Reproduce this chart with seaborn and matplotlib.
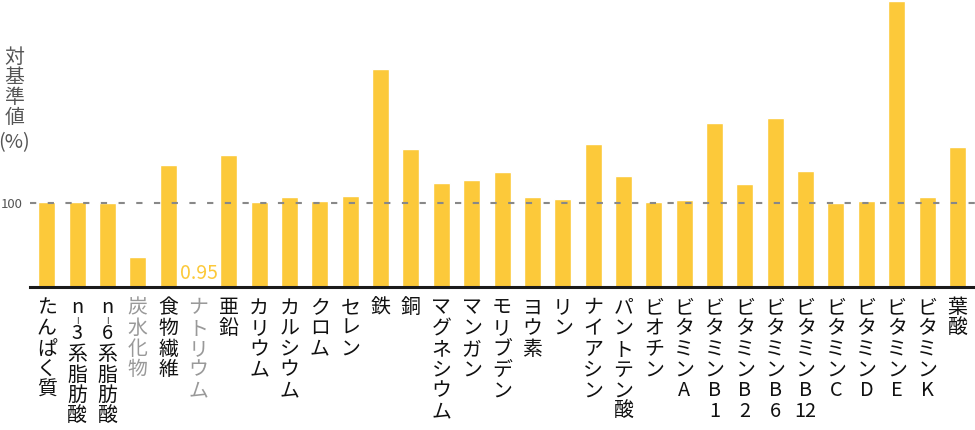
import re
import matplotlib
matplotlib.use("Agg")
import matplotlib.pyplot as plt
import seaborn as sns
import pandas as pd

# nutrient names and ratio to reference intake (%)
nutrients = [
    "たんぱく質", "n-3系脂肪酸", "n-6系脂肪酸", "炭水化物", "食物繊維", "ナトリウム",
    "亜鉛", "カリウム", "カルシウム", "クロム", "セレン", "鉄", "銅", "マグネシウム",
    "マンガン", "モリブデン", "ヨウ素", "リン", "ナイアシン", "パントテン酸", "ビオチン",
    "ビタミンA", "ビタミンB1", "ビタミンB2", "ビタミンB6", "ビタミンB12", "ビタミンC",
    "ビタミンD", "ビタミンE", "ビタミンK", "葉酸",
]
ratios = [
    101, 102, 100.4, 36.5, 146, 0.95,
    158, 101, 107, 102.4, 109, 260, 165, 124.5,
    128, 137, 107, 105, 170, 133, 102,
    104, 196, 123, 201, 138, 100.4,
    102.4, 341, 107, 167,
]
muted = ["炭水化物", "ナトリウム"]
labelled = ["ナトリウム"]
reference = 100

BAR = "#fcc93a"
W, H = 975, 430
FS = 14.3

sns.set_theme(style="white")
plt.rcParams['font.family'] = ['Noto Sans CJK JP', 'DejaVu Sans']

df = pd.DataFrame({"nutrient": nutrients, "ratio": ratios})

fig = plt.figure(figsize=(W / 100, H / 100), dpi=100)
ax = fig.add_axes([30 / W, 1 - 287.3 / H, 945 / W, 287.3 / H])

sns.barplot(data=df, x="nutrient", y="ratio", color=BAR, saturation=1,
            width=0.56, ax=ax, zorder=2)
ax.axhline(reference, color="#888888", lw=1.5, dashes=(3, 5.5), zorder=3)

ax.set_xlim(-0.55, len(nutrients) - 0.42)
ax.set_ylim(0, 342)
ax.set_xlabel("")
ax.set_ylabel("")
ax.set_xticks(range(len(nutrients)))
ax.set_xticklabels([""] * len(nutrients))
ax.set_yticks([reference])
ax.set_yticklabels([str(reference)], fontsize=9.5, color="#555555")
ax.tick_params(axis="both", length=0)
ax.tick_params(axis="y", pad=5)
for s in ["top", "right", "left"]:
    ax.spines[s].set_visible(False)
ax.spines["bottom"].set_color("#1a1a1a")
ax.spines["bottom"].set_linewidth(2.2)


def vertical_label(x, text, color, first=18.8, step=14.9):
    y = first
    for tok in re.findall(r"\d+|.", text):
        if tok == "-":
            # short vertical hyphen squeezed between two lines
            ax.annotate("|", (x, 0), xycoords=("data", "axes fraction"),
                        xytext=(0, -(y - step + 5.3)), textcoords="offset points",
                        ha="center", va="center", fontsize=5, fontweight="bold",
                        color=color, family="DejaVu Sans")
            y += 3.8
            continue
        ax.annotate(tok, (x, 0), xycoords=("data", "axes fraction"),
                    xytext=(0, -y), textcoords="offset points",
                    ha="center", va="baseline", fontsize=FS, color=color)
        y += step


for i, name in enumerate(nutrients):
    vertical_label(i, name, "#999999" if name in muted else "#111111")
    if name in labelled:
        ax.annotate(f"{ratios[i]:g}", (i, ratios[i]), xytext=(0, 5.5),
                    textcoords="offset points", ha="center", va="baseline",
                    fontsize=14, color=BAR)

# stacked y-axis title
for ch, yb in zip(["対", "基", "準", "値", "(%)"], [63, 83, 103, 123, 148]):
    fig.text(14.5 / W, 1 - yb / H, ch, ha="center", va="baseline",
             fontsize=FS, color="#555555")

fig.savefig("out.png", dpi=100)
